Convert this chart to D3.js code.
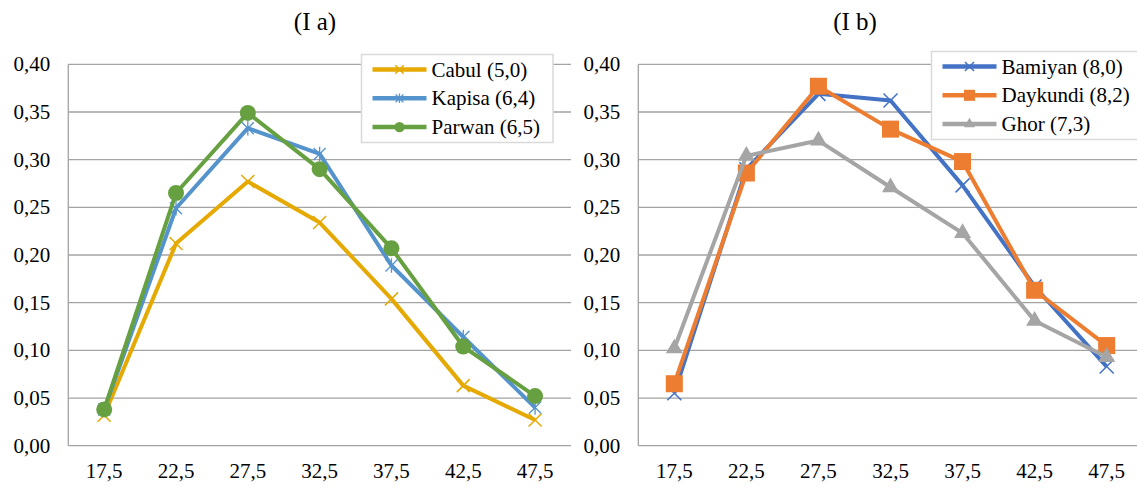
<!DOCTYPE html>
<html>
<head>
<meta charset="utf-8">
<script src="https://cdn.jsdelivr.net/npm/d3@7"></script>
<style>
  body { margin: 0; background: #fff; }
  text { font-family: "Liberation Serif", "Times New Roman", Tinos, "DejaVu Serif", serif; }
</style>
</head>
<body>
<svg id="chart" width="1137" height="487"></svg>
<script>
// categories (x axis)
const categories = ["17,5", "22,5", "27,5", "32,5", "37,5", "42,5", "47,5"];
const yTicks = [0, 0.05, 0.10, 0.15, 0.20, 0.25, 0.30, 0.35, 0.40];

// panel I a
const cabul  = [0.032, 0.212, 0.277, 0.234, 0.154, 0.063, 0.027];
const kapisa = [0.038, 0.249, 0.333, 0.306, 0.189, 0.114, 0.040];
const parwan = [0.038, 0.265, 0.349, 0.290, 0.207, 0.104, 0.052];

// panel I b
const bamiyan  = [0.055, 0.290, 0.369, 0.362, 0.273, 0.167, 0.083];
const daykundi = [0.065, 0.286, 0.377, 0.332, 0.298, 0.163, 0.105];
const ghor     = [0.102, 0.304, 0.320, 0.271, 0.223, 0.131, 0.093];

const svg = d3.select("#chart");
const fmt = d => d3.format(".2f")(d).replace(".", ",");
const FONT = "'Liberation Serif', 'Times New Roman', Tinos, 'DejaVu Serif', serif";

// draw one marker shape at 0,0
function marker(g, type, color, s) {
    if (type === "x") {
        g.append("path")
            .attr("d", `M${-s},${-s}L${s},${s}M${-s},${s}L${s},${-s}`)
            .attr("stroke", color).attr("stroke-width", 1.5).attr("fill", "none");
    } else if (type === "star") {
        g.append("path")
            .attr("d", `M${-s},${-s}L${s},${s}M${-s},${s}L${s},${-s}M0,${-s * 1.2}L0,${s * 1.2}`)
            .attr("stroke", color).attr("stroke-width", 1.3).attr("fill", "none");
    } else if (type === "circle") {
        g.append("circle").attr("r", s).attr("fill", color);
    } else if (type === "square") {
        g.append("rect").attr("x", -s).attr("y", -s)
            .attr("width", 2 * s).attr("height", 2 * s).attr("fill", color);
    } else if (type === "triangle") {
        g.append("path")
            .attr("d", d3.symbol(d3.symbolTriangle, (2 * s) * (2 * s) * 0.433)())
            .attr("fill", color);
    }
}

function drawPanel(p) {
    const x = d3.scalePoint().domain(categories).range([p.left, p.right]).padding(0.5);
    const y = d3.scaleLinear().domain([0, 0.4]).range([445.7, 64.3]);
    const g = svg.append("g").attr("font-family", FONT);

    // gridlines
    g.selectAll(".grid").data(yTicks).join("line")
        .attr("x1", p.left).attr("x2", p.right)
        .attr("y1", d => y(d)).attr("y2", d => y(d))
        .attr("stroke", "#a3a3a3").attr("stroke-width", 1.3);

    // y axis line
    g.append("line")
        .attr("x1", p.left).attr("x2", p.left)
        .attr("y1", y(0.4)).attr("y2", y(0))
        .attr("stroke", "#a3a3a3").attr("stroke-width", 1.3);

    // y labels
    g.selectAll(".ylab").data(yTicks).join("text")
        .attr("x", p.left - 18).attr("y", d => y(d) + 7)
        .attr("text-anchor", "end")
        .style("font-family", FONT)
        .style("font-size", "21px")
        .text(fmt);

    // x labels
    g.selectAll(".xlab").data(categories).join("text")
        .attr("x", d => x(d)).attr("y", 478)
        .attr("text-anchor", "middle")
        .style("font-family", FONT)
        .style("font-size", "21px")
        .text(d => d);

    // title
    g.append("text")
        .attr("x", p.titleX).attr("y", 30)
        .attr("text-anchor", "middle")
        .style("font-family", FONT)
        .style("font-size", "25px")
        .text(p.title);

    const line = d3.line().x((d, i) => x(categories[i])).y(d => y(d));

    p.series.forEach(s => {
        g.append("path").datum(s.values)
            .attr("d", line)
            .attr("fill", "none")
            .attr("stroke", s.color)
            .attr("stroke-width", 4)
            .attr("stroke-linejoin", "round");
        s.values.forEach((v, i) => {
            const m = g.append("g").attr("transform", `translate(${x(categories[i])},${y(v)})`);
            marker(m, s.marker, s.color, s.size);
        });
    });

    // legend
    const lg = g.append("g");
    lg.append("rect")
        .attr("x", p.legX).attr("y", p.legY)
        .attr("width", p.legW).attr("height", 88)
        .attr("fill", "#fff").attr("stroke", "#d9d9d9").attr("stroke-width", 1.5);
    p.series.forEach((s, i) => {
        const cy = p.legY + 15 + i * 28.8;
        lg.append("line")
            .attr("x1", p.legX + 11).attr("x2", p.legX + 65)
            .attr("y1", cy).attr("y2", cy)
            .attr("stroke", s.color).attr("stroke-width", 4.5);
        const m = lg.append("g").attr("transform", `translate(${p.legX + 38},${cy})`);
        marker(m, s.marker, s.color, s.size * 0.65);
        lg.append("text")
            .attr("x", p.legX + 70).attr("y", cy + 7)
            .style("font-family", FONT)
            .style("font-size", "21px")
            .text(s.name);
    });
}

drawPanel({
    title: "(I a)", titleX: 315, left: 68.3, right: 571,
    legX: 361.5, legY: 54.5, legW: 191.5,
    series: [
        { name: "Cabul (5,0)",  values: cabul,  color: "#e5a900", marker: "x",      size: 6.5 },
        { name: "Kapisa (6,4)", values: kapisa, color: "#5593cc", marker: "star",   size: 6 },
        { name: "Parwan (6,5)", values: parwan, color: "#66a040", marker: "circle", size: 8 }
    ]
});

drawPanel({
    title: "(I b)", titleX: 855, left: 638.3, right: 1142.7,
    legX: 931.5, legY: 51.5, legW: 220,
    series: [
        { name: "Bamiyan (8,0)",  values: bamiyan,  color: "#4472c4", marker: "x",        size: 7 },
        { name: "Daykundi (8,2)", values: daykundi, color: "#ed7d31", marker: "square",   size: 8.5 },
        { name: "Ghor (7,3)",     values: ghor,     color: "#a5a5a5", marker: "triangle", size: 8.5 }
    ]
});
</script>
</body>
</html>
